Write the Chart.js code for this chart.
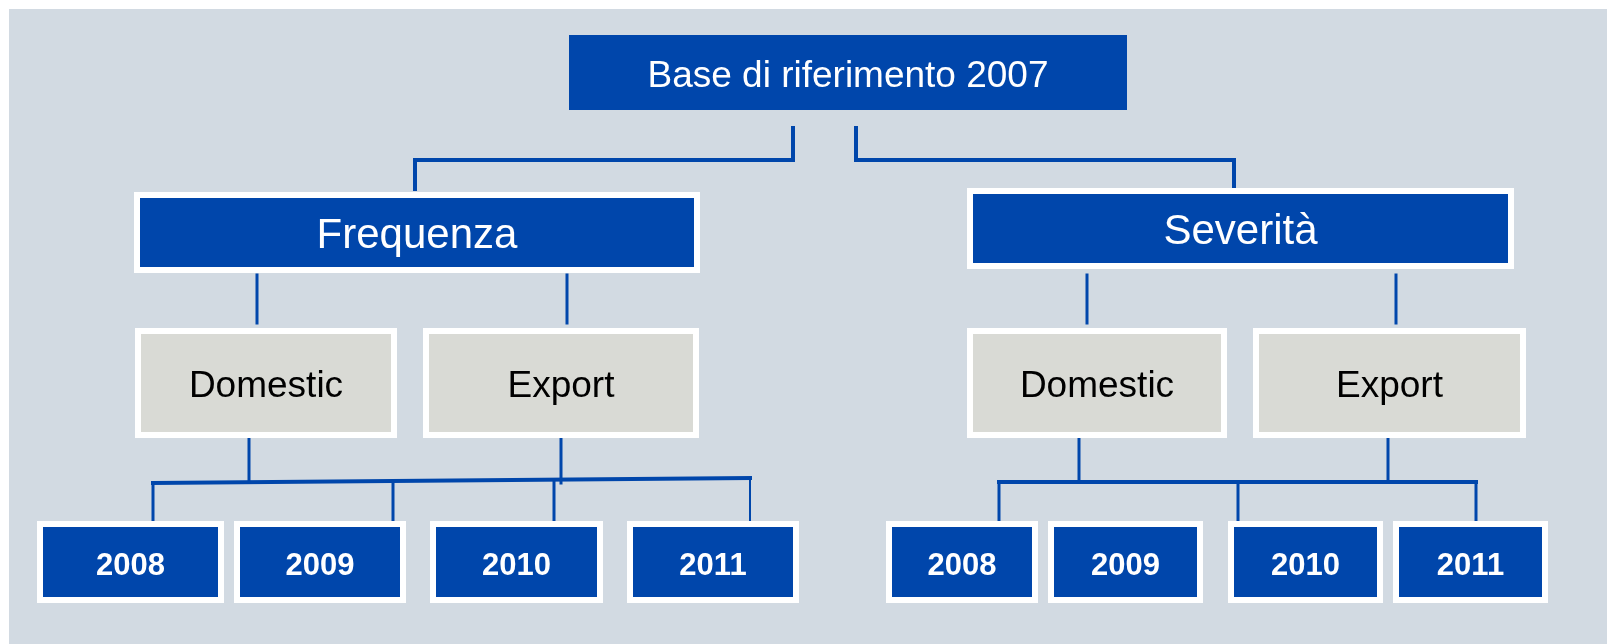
<!DOCTYPE html>
<html>
<head>
<meta charset="utf-8">
<script src="https://cdn.jsdelivr.net/npm/chart.js@4/dist/chart.umd.min.js"></script>
<style>
html, body { margin: 0; padding: 0; background: #ffffff; }
#contenitore { width: 1607px; height: 644px; }
</style>
</head>
<body>
<div id="contenitore"><canvas id="myChartAlbero"></canvas></div>
<script>
// testi dei nodi, per livello
var radice = ['Base di riferimento 2007'];
var rami = ['Frequenza', 'Severità'];
var mercati = ['Domestic', 'Export'];
var anni = ['2008', '2009', '2010', '2011'];

// impaginazione (unita' della scala = pixel del disegno): [x0, x1, y0, y1]
var posRadice = [569, 1127, 35, 110];
var posRami = [[134, 700, 192, 273], [967, 1514, 188, 269]];
var posMercati = [
    [[135, 397, 328, 438], [423, 699, 328, 438]],
    [[967, 1227, 328, 438], [1253, 1526, 328, 438]]
];
var posAnni = [
    [[37, 224], [234, 406], [430, 603], [627, 799]],
    [[886, 1038], [1048, 1203], [1228, 1383], [1393, 1548]]
];
var annoY = [521, 603];

// linee di collegamento (spezzate)
var collegamenti = [
    { w: 4, p: [[793, 128], [793, 160], [415, 160], [415, 189]] },
    { w: 4, p: [[856, 128], [856, 160], [1234, 160], [1234, 189]] },
    { w: 3, p: [[257, 275], [257, 323]] },
    { w: 3, p: [[567, 275], [567, 323]] },
    { w: 3, p: [[1087, 275], [1087, 323]] },
    { w: 3, p: [[1396, 275], [1396, 323]] },
    { w: 3, p: [[249, 435], [249, 482]] },
    { w: 3, p: [[561, 435], [561, 483]] },
    { w: 4, p: [[153, 483], [750, 478]] },
    { w: 3, p: [[153, 483], [153, 521]] },
    { w: 3, p: [[393, 482], [393, 521]] },
    { w: 3, p: [[554, 481], [554, 521]] },
    { w: 2, p: [[750, 478], [750, 524]] },
    { w: 3, p: [[1079, 435], [1079, 482]] },
    { w: 3, p: [[1388, 435], [1388, 482]] },
    { w: 4, p: [[999, 482], [1476, 482]] },
    { w: 3, p: [[999, 482], [999, 521]] },
    { w: 3, p: [[1238, 482], [1238, 521]] },
    { w: 3, p: [[1476, 482], [1476, 521]] }
];

var BLU = '#0046ab';
var GRIGIO = '#d9dad5';
var SFONDO = '#d2dae2';
var FONT = 'Liberation Sans, Arial, sans-serif';

var scatole = [];
scatole.push({ r: posRadice, testo: radice[0], fondo: BLU, colore: '#ffffff', font: '37px ' + FONT, bordo: 0 });
rami.forEach(function (t, i) {
    scatole.push({ r: posRami[i], testo: t, fondo: BLU, colore: '#ffffff', font: '42px ' + FONT, bordo: 6 });
    mercati.forEach(function (m, j) {
        scatole.push({ r: posMercati[i][j], testo: m, fondo: GRIGIO, colore: '#000000', font: '37px ' + FONT, bordo: 6 });
    });
    anni.forEach(function (a, k) {
        var px = posAnni[i][k];
        scatole.push({ r: [px[0], px[1], annoY[0], annoY[1]], testo: a, fondo: BLU, colore: '#ffffff', font: 'bold 31px ' + FONT, bordo: 6 });
    });
});

var pluginScatole = {
    id: 'scatole',
    beforeDraw: function (chart) {
        var c = chart.ctx, sx = chart.scales.x, sy = chart.scales.y;
        c.save();
        c.fillStyle = '#ffffff';
        c.fillRect(0, 0, chart.width, chart.height);
        c.fillStyle = SFONDO;
        var x0 = sx.getPixelForValue(9), y0 = sy.getPixelForValue(9);
        c.fillRect(x0, y0, sx.getPixelForValue(1607) - x0, sy.getPixelForValue(644) - y0);
        c.restore();
    },
    afterDatasetsDraw: function (chart) {
        var c = chart.ctx, sx = chart.scales.x, sy = chart.scales.y;
        c.save();
        scatole.forEach(function (s) {
            var x0 = sx.getPixelForValue(s.r[0]), x1 = sx.getPixelForValue(s.r[1]);
            var y0 = sy.getPixelForValue(s.r[2]), y1 = sy.getPixelForValue(s.r[3]);
            if (s.bordo) {
                c.fillStyle = '#ffffff';
                c.fillRect(x0, y0, x1 - x0, y1 - y0);
            }
            var b = s.bordo;
            c.fillStyle = s.fondo;
            c.fillRect(x0 + b, y0 + b, x1 - x0 - 2 * b, y1 - y0 - 2 * b);
            c.fillStyle = s.colore;
            c.font = s.font;
            c.textAlign = 'center';
            c.textBaseline = 'middle';
            c.fillText(s.testo, (x0 + x1) / 2, (y0 + y1) / 2 + 4);
        });
        c.restore();
    }
};

var ctx = document.getElementById('myChartAlbero').getContext('2d');
var myChartAlbero = new Chart(ctx, {
    type: 'scatter',
    data: {
        datasets: collegamenti.map(function (l) {
            return {
                data: l.p.map(function (q) { return { x: q[0], y: q[1] }; }),
                showLine: true,
                borderColor: BLU,
                borderWidth: l.w,
                borderCapStyle: 'square',
                borderJoinStyle: 'miter',
                pointRadius: 0,
                fill: false
            };
        })
    },
    options: {
        responsive: true,
        maintainAspectRatio: false,
        animation: false,
        events: [],
        layout: { padding: 0 },
        plugins: { legend: { display: false }, tooltip: { enabled: false } },
        scales: {
            x: { type: 'linear', min: 0, max: 1607, display: false },
            y: { type: 'linear', min: 0, max: 644, reverse: true, display: false }
        }
    },
    plugins: [pluginScatole]
});
</script>
</body>
</html>
